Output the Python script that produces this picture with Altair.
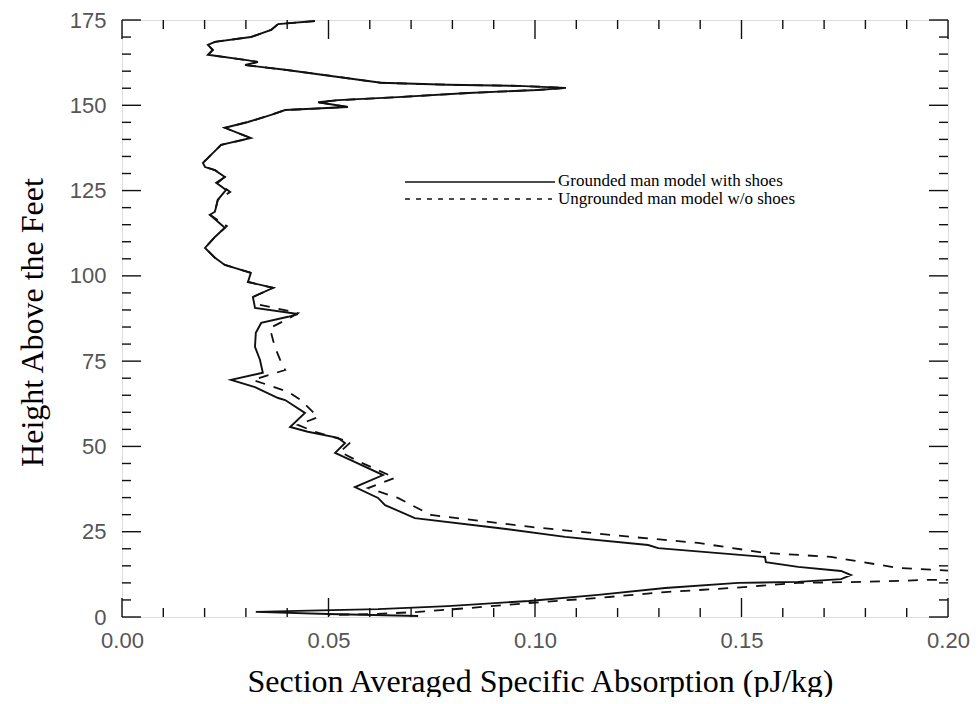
import altair as alt
import pandas as pd

# ---- data (x = absorption pJ/kg, h = height) ----
solid_x = [0.0467, 0.0378, 0.0361, 0.0312, 0.0225, 0.0208, 0.0220, 0.0208, 0.0298, 0.0329,
           0.0298, 0.0395, 0.0506, 0.0627, 0.0789, 0.0959, 0.1075, 0.1007, 0.0838, 0.0668,
           0.0523, 0.0475, 0.0547, 0.0395, 0.0361, 0.0305, 0.0249, 0.0312, 0.0240, 0.0215,
           0.0196, 0.0201, 0.0225, 0.0249, 0.0228, 0.0252, 0.0232, 0.0225, 0.0213, 0.0249,
           0.0225, 0.0201, 0.0225, 0.0249, 0.0312, 0.0305, 0.0366, 0.0317, 0.0322, 0.0426,
           0.0402, 0.0337, 0.0324, 0.0322, 0.0334, 0.0341, 0.0264, 0.0322, 0.0378, 0.0395,
           0.0443, 0.0407, 0.0450, 0.0523, 0.0540, 0.0516, 0.0554, 0.0632, 0.0564, 0.0620,
           0.0637, 0.0709, 0.0910, 0.1073, 0.1274, 0.1298, 0.1557, 0.1559, 0.1637, 0.1741,
           0.1765, 0.1741, 0.1637, 0.1492, 0.1315, 0.1153, 0.0985, 0.0789, 0.0620, 0.0426,
           0.0324, 0.0499, 0.0717]
solid_h = [174.7, 173.8, 172.1, 170.0, 168.6, 167.7, 166.2, 164.8, 163.3, 162.7,
           161.8, 160.4, 158.6, 156.6, 156.0, 155.7, 155.1, 154.5, 153.6, 152.4,
           151.5, 150.9, 149.5, 148.6, 147.2, 145.1, 143.4, 140.4, 138.4, 135.4,
           133.1, 131.9, 131.0, 129.0, 127.3, 125.2, 122.3, 118.8, 117.9, 114.1,
           111.4, 108.2, 105.3, 103.2, 100.9, 98.2, 96.5, 93.8, 90.6, 88.8,
           88.0, 86.2, 83.3, 79.2, 75.4, 71.6, 69.5, 67.4, 64.2, 63.6,
           59.8, 55.7, 54.3, 52.5, 51.0, 48.1, 46.0, 41.6, 38.1, 34.9,
           32.8, 29.0, 26.1, 23.5, 21.1, 20.2, 17.6, 16.1, 14.7, 13.5,
           12.3, 11.1, 10.3, 10.0, 8.5, 6.5, 4.7, 3.2, 2.3, 1.8,
           1.5, 0.9, 0.3]

dashed_x = [0.0467, 0.0378, 0.0361, 0.0312, 0.0225, 0.0208, 0.0220, 0.0208, 0.0298, 0.0329,
            0.0298, 0.0395, 0.0506, 0.0627, 0.0789, 0.0959, 0.1075, 0.1007, 0.0838, 0.0668,
            0.0523, 0.0475, 0.0547, 0.0395, 0.0361, 0.0305, 0.0249, 0.0312, 0.0240, 0.0215,
            0.0196, 0.0201, 0.0225, 0.0249, 0.0232, 0.0262, 0.0232, 0.0225, 0.0213, 0.0254,
            0.0225, 0.0201, 0.0225, 0.0249, 0.0312, 0.0305, 0.0366, 0.0322, 0.0334, 0.0426,
            0.0407, 0.0358, 0.0370, 0.0383, 0.0395, 0.0317, 0.0402, 0.0433, 0.0475, 0.0426,
            0.0467, 0.0554, 0.0528, 0.0571, 0.0661, 0.0596, 0.0668, 0.0748, 0.0831, 0.0990,
            0.1232, 0.1395, 0.1557, 0.1717, 0.1879, 0.2012, 0.2012, 0.1959, 0.1799, 0.1637,
            0.1475, 0.1315, 0.1153, 0.0985, 0.0838, 0.0717, 0.0620, 0.0499]
dashed_h = [174.7, 173.8, 172.1, 170.0, 168.6, 167.7, 166.2, 164.8, 163.3, 162.7,
            161.8, 160.4, 158.6, 156.6, 156.0, 155.7, 155.1, 154.5, 153.6, 152.4,
            151.5, 150.9, 149.5, 148.6, 147.2, 145.1, 143.4, 140.4, 138.4, 135.4,
            133.1, 131.9, 131.0, 129.0, 127.3, 124.6, 122.3, 118.8, 117.9, 114.6,
            111.4, 108.2, 105.3, 103.2, 100.9, 98.2, 96.5, 94.1, 91.5, 89.1,
            87.7, 84.7, 79.2, 75.4, 72.4, 69.5, 66.0, 63.6, 58.6, 56.3,
            54.3, 51.3, 48.4, 45.7, 40.8, 37.8, 34.9, 29.9, 28.7, 26.4,
            23.5, 21.7, 18.8, 17.6, 14.4, 13.5, 10.9, 10.9, 10.3, 10.0,
            8.5, 7.3, 5.6, 4.1, 2.6, 1.5, 0.9, 0.6]

series_names = ["Grounded man model with shoes", "Ungrounded man model w/o shoes"]

x_major = [0.0, 0.05, 0.10, 0.15, 0.20]
x_minor = [0.01, 0.02, 0.03, 0.04, 0.06, 0.07, 0.08, 0.09, 0.11, 0.12, 0.13, 0.14,
           0.16, 0.17, 0.18, 0.19]
y_major = [0, 25, 50, 75, 100, 125, 150, 175]
y_minor = [5, 10, 15, 20, 30, 35, 40, 45, 55, 60, 65, 70, 80, 85, 90, 95, 105, 110,
           115, 120, 130, 135, 140, 145, 155, 160, 165, 170]

W, H = 826, 597
INK = "#111111"

xscale = alt.Scale(domain=[0, 0.2], nice=False, zero=False)
yscale = alt.Scale(domain=[0, 175], nice=False, zero=False)

xaxis = alt.Axis(values=x_major, format=".2f", title="Section Averaged Specific Absorption (pJ/kg)",
                 ticks=False, domain=False, grid=False, labelFlush=False, labelOverlap=False,
                 labelFont="Liberation Sans", labelFontSize=22, labelColor="#555555",
                 labelPadding=13, titleFont="Liberation Serif", titleFontSize=32,
                 titleFontWeight="normal", titleColor="#000000", titleX=418, titleY=64,
                 titleBaseline="middle")
yaxis = alt.Axis(values=y_major, format="d", title="Height Above the Feet",
                 ticks=False, domain=False, grid=False, labelFlush=False, labelOverlap=False,
                 labelFont="Liberation Sans", labelFontSize=22, labelColor="#555555",
                 labelPadding=16, titleFont="Liberation Serif", titleFontSize=32,
                 titleFontWeight="normal", titleColor="#000000", titleX=-90, titleY=302,
                 titleBaseline="middle", titleAngle=-90)

df_s = pd.DataFrame({"x": solid_x, "h": solid_h, "i": range(len(solid_x))})
df_d = pd.DataFrame({"x": dashed_x, "h": dashed_h, "i": range(len(dashed_x))})

solid = alt.Chart(df_s).mark_line(color=INK, strokeWidth=1.9, clip=True).encode(
    x=alt.X("x:Q", scale=xscale, axis=xaxis),
    y=alt.Y("h:Q", scale=yscale, axis=yaxis),
    order=alt.Order("i:Q"),
)
dashed = alt.Chart(df_d).mark_line(color=INK, strokeWidth=1.8, strokeDash=[10, 9], clip=True).encode(
    x=alt.X("x:Q", scale=xscale),
    y=alt.Y("h:Q", scale=yscale),
    order=alt.Order("i:Q"),
)

layers = [solid, dashed]

def xticks(vals, length):
    d = pd.DataFrame({"v": vals})
    bot = alt.Chart(d).mark_rule(color=INK, strokeWidth=1.4).encode(
        x=alt.X("v:Q", scale=xscale), y=alt.value(H), y2=alt.value(H - length))
    top = alt.Chart(d).mark_rule(color=INK, strokeWidth=1.4).encode(
        x=alt.X("v:Q", scale=xscale), y=alt.value(0), y2=alt.value(length))
    return [bot, top]

def yticks(vals, length):
    d = pd.DataFrame({"v": vals})
    left = alt.Chart(d).mark_rule(color=INK, strokeWidth=1.4).encode(
        y=alt.Y("v:Q", scale=yscale), x=alt.value(0), x2=alt.value(length))
    right = alt.Chart(d).mark_rule(color=INK, strokeWidth=1.4).encode(
        y=alt.Y("v:Q", scale=yscale), x=alt.value(W), x2=alt.value(W - length))
    return [left, right]

layers += xticks(x_major, 19) + xticks(x_minor, 9) + yticks(y_major, 19) + yticks(y_minor, 9)

one = pd.DataFrame({"a": [0]})
leg_solid = alt.Chart(one).mark_rule(color=INK, strokeWidth=1.6).encode(
    x=alt.value(283), x2=alt.value(433), y=alt.value(162))
leg_dash = alt.Chart(one).mark_rule(color=INK, strokeWidth=1.6, strokeDash=[5, 6]).encode(
    x=alt.value(283), x2=alt.value(430), y=alt.value(179))
leg_t1 = alt.Chart(one).mark_text(font="Liberation Serif", fontSize=17, color="#000", align="left",
                                  baseline="middle").encode(
    x=alt.value(436), y=alt.value(161), text=alt.value(series_names[0]))
leg_t2 = alt.Chart(one).mark_text(font="Liberation Serif", fontSize=17, color="#000", align="left",
                                  baseline="middle").encode(
    x=alt.value(436), y=alt.value(179), text=alt.value(series_names[1]))
layers += [leg_solid, leg_dash, leg_t1, leg_t2]

chart = alt.layer(*layers).properties(
    width=W, height=H,
    autosize=alt.AutoSizeParams(type="none"),
    padding={"left": 114, "top": 12, "right": 22, "bottom": 80},
).configure_view(stroke=INK, strokeWidth=1.6).configure(background="white")

chart.save("out.html", embed_options={"renderer": "svg", "actions": False})
